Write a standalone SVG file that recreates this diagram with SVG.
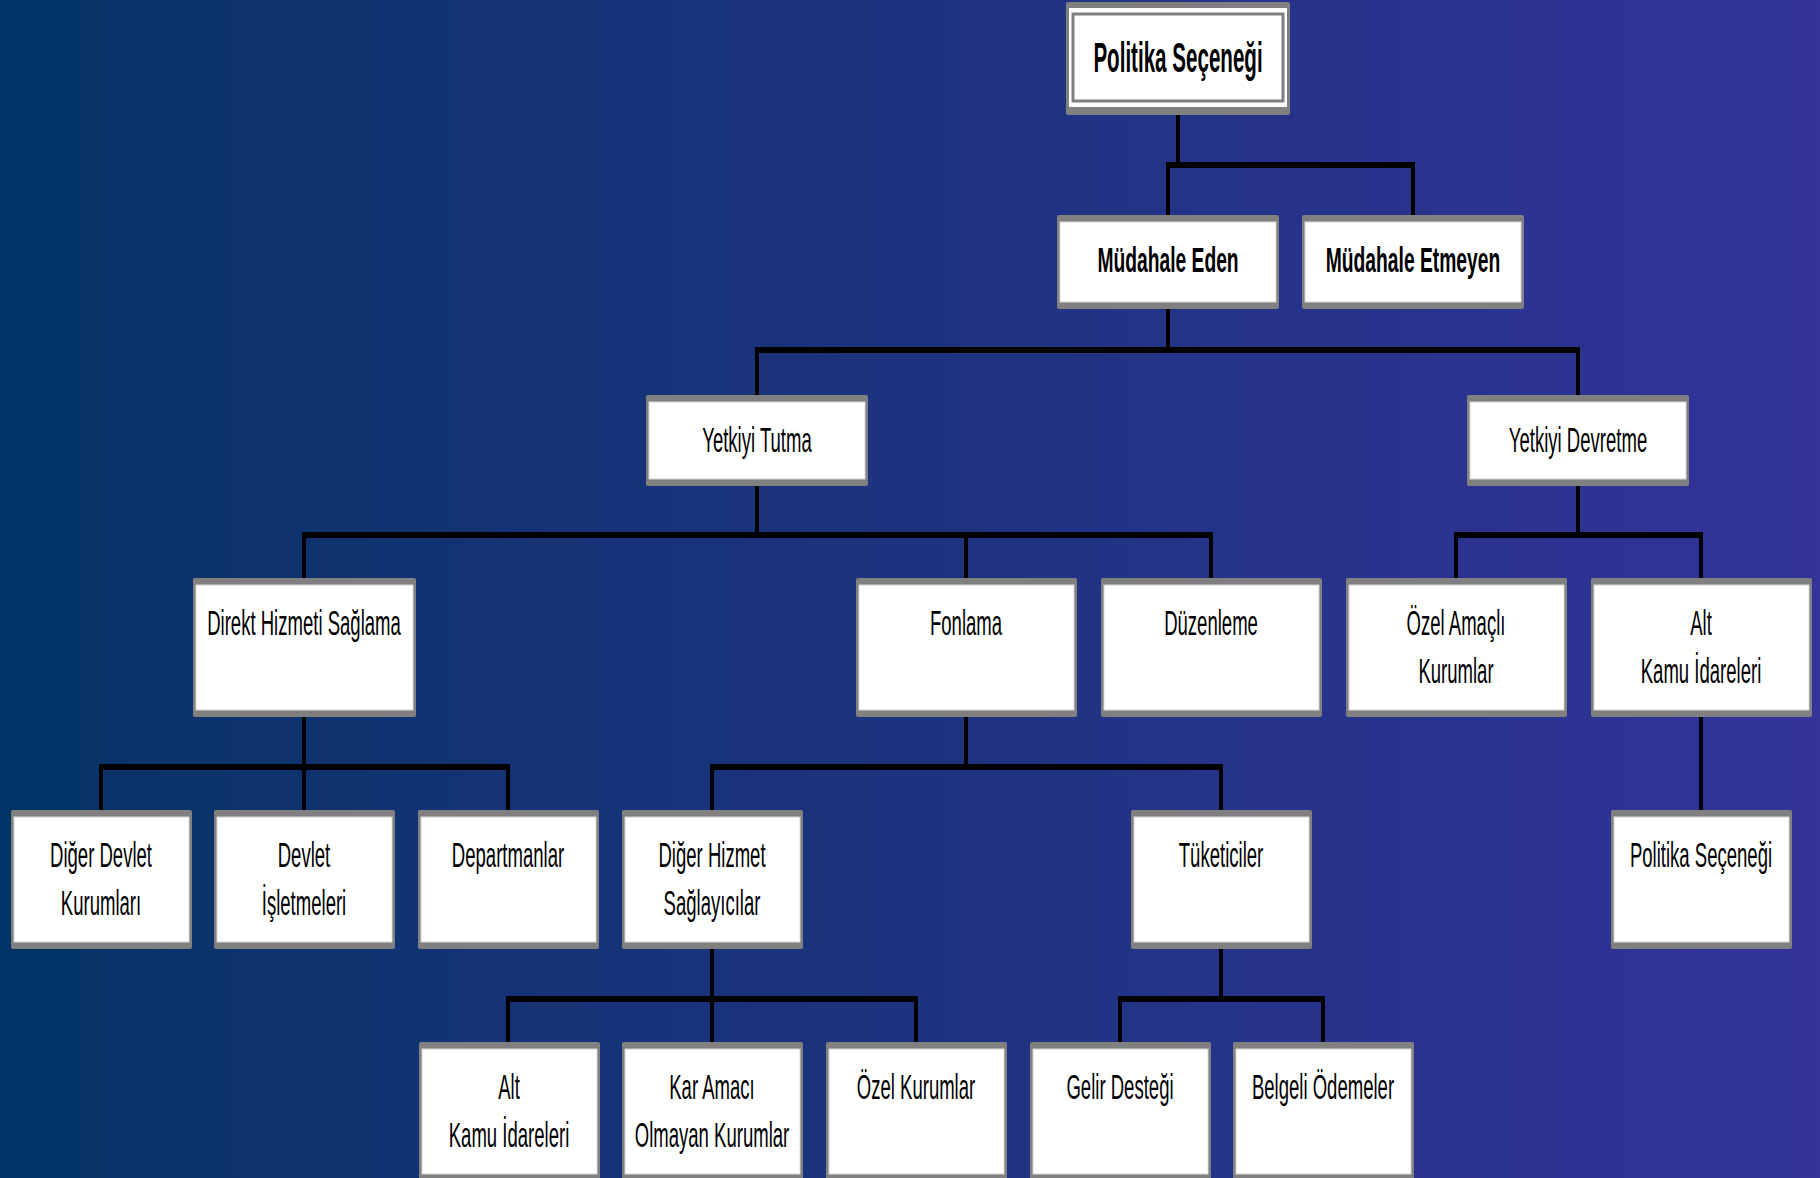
<svg xmlns="http://www.w3.org/2000/svg" width="1820" height="1178" viewBox="0 0 1820 1178">
<defs>
<linearGradient id="bg" x1="0" y1="0" x2="1" y2="0">
<stop offset="0" stop-color="#003366"/>
<stop offset="0.044" stop-color="#003366"/>
<stop offset="0.045" stop-color="#0a3368"/>
<stop offset="1" stop-color="#333399"/>
</linearGradient>
</defs>
<style>
.fr{fill:#808080}
.in{fill:#ffffff;stroke:#d8d8d8;stroke-width:1}
.ln{stroke:#000000;fill:none}
.v{stroke-width:4}
.h{stroke-width:6}
text{font-family:"Liberation Sans",Arial,sans-serif;fill:#000000;text-anchor:middle}
.t{font-size:36px}
.b{font-size:36px;font-weight:bold}
.tb{font-size:42px;font-weight:bold}
</style>
<rect x="0" y="0" width="1820" height="1178" fill="url(#bg)"/>

<g id="connectors">
<line class="ln v" x1="1178" y1="115" x2="1178" y2="165"/>
<line class="ln h" x1="1166" y1="165" x2="1415" y2="165"/>
<line class="ln v" x1="1168" y1="165" x2="1168" y2="215"/>
<line class="ln v" x1="1413" y1="165" x2="1413" y2="215"/>

<line class="ln v" x1="1168" y1="309" x2="1168" y2="350"/>
<line class="ln h" x1="755" y1="350" x2="1580" y2="350"/>
<line class="ln v" x1="757" y1="350" x2="757" y2="395"/>
<line class="ln v" x1="1578" y1="350" x2="1578" y2="395"/>

<line class="ln v" x1="757" y1="486" x2="757" y2="535"/>
<line class="ln h" x1="302" y1="535" x2="1213" y2="535"/>
<line class="ln v" x1="304" y1="535" x2="304" y2="578"/>
<line class="ln v" x1="966" y1="535" x2="966" y2="578"/>
<line class="ln v" x1="1211" y1="535" x2="1211" y2="578"/>

<line class="ln v" x1="1578" y1="486" x2="1578" y2="535"/>
<line class="ln h" x1="1454" y1="535" x2="1703" y2="535"/>
<line class="ln v" x1="1456" y1="535" x2="1456" y2="578"/>
<line class="ln v" x1="1701" y1="535" x2="1701" y2="578"/>

<line class="ln v" x1="304" y1="717" x2="304" y2="767"/>
<line class="ln h" x1="99" y1="767" x2="510" y2="767"/>
<line class="ln v" x1="101" y1="767" x2="101" y2="810"/>
<line class="ln v" x1="304" y1="767" x2="304" y2="810"/>
<line class="ln v" x1="508" y1="767" x2="508" y2="810"/>

<line class="ln v" x1="966" y1="717" x2="966" y2="767"/>
<line class="ln h" x1="710" y1="767" x2="1223" y2="767"/>
<line class="ln v" x1="712" y1="767" x2="712" y2="810"/>
<line class="ln v" x1="1221" y1="767" x2="1221" y2="810"/>

<line class="ln v" x1="1701" y1="717" x2="1701" y2="810"/>

<line class="ln v" x1="712" y1="949" x2="712" y2="999"/>
<line class="ln h" x1="506" y1="999" x2="918" y2="999"/>
<line class="ln v" x1="508" y1="999" x2="508" y2="1042"/>
<line class="ln v" x1="712" y1="999" x2="712" y2="1042"/>
<line class="ln v" x1="916" y1="999" x2="916" y2="1042"/>

<line class="ln v" x1="1221" y1="949" x2="1221" y2="999"/>
<line class="ln h" x1="1118" y1="999" x2="1325" y2="999"/>
<line class="ln v" x1="1120" y1="999" x2="1120" y2="1042"/>
<line class="ln v" x1="1323" y1="999" x2="1323" y2="1042"/>
</g>

<g id="n-politika-top">
<rect class="fr" x="1066" y="2" width="224" height="113" rx="2"/>
<rect x="1069" y="8" width="218" height="99" fill="#ffffff"/>
<rect x="1073" y="14" width="210" height="87" fill="#ffffff" stroke="#808080" stroke-width="3"/>
<text class="tb" transform="translate(1178,72) scale(0.49,1)">Politika Seçeneği</text>
</g>

<g id="n-mudahale-eden">
<rect class="fr" x="1057" y="215" width="222" height="94" rx="2"/>
<rect class="in" x="1060" y="222" width="216" height="80"/>
<text class="b" transform="translate(1168,272) scale(0.535,1)">Müdahale Eden</text>
</g>

<g id="n-mudahale-etmeyen">
<rect class="fr" x="1302" y="215" width="222" height="94" rx="2"/>
<rect class="in" x="1305" y="222" width="216" height="80"/>
<text class="b" transform="translate(1413,272) scale(0.535,1)">Müdahale Etmeyen</text>
</g>

<g id="n-yetkiyi-tutma">
<rect class="fr" x="646" y="395" width="222" height="91" rx="2"/>
<rect class="in" x="649" y="402" width="216" height="77"/>
<text class="t" transform="translate(757,452) scale(0.515,1)">Yetkiyi Tutma</text>
</g>

<g id="n-yetkiyi-devretme">
<rect class="fr" x="1467" y="395" width="222" height="91" rx="2"/>
<rect class="in" x="1470" y="402" width="216" height="77"/>
<text class="t" transform="translate(1578,452) scale(0.515,1)">Yetkiyi Devretme</text>
</g>

<g id="n-direkt">
<rect class="fr" x="193" y="578" width="223" height="139" rx="2"/>
<rect class="in" x="196" y="585" width="217" height="125"/>
<text class="t" transform="translate(304,635) scale(0.515,1)">Direkt Hizmeti Sağlama</text>
</g>

<g id="n-fonlama">
<rect class="fr" x="856" y="578" width="221" height="139" rx="2"/>
<rect class="in" x="859" y="585" width="215" height="125"/>
<text class="t" transform="translate(966,635) scale(0.515,1)">Fonlama</text>
</g>

<g id="n-duzenleme">
<rect class="fr" x="1101" y="578" width="221" height="139" rx="2"/>
<rect class="in" x="1104" y="585" width="215" height="125"/>
<text class="t" transform="translate(1211,635) scale(0.515,1)">Düzenleme</text>
</g>

<g id="n-ozel-amacli">
<rect class="fr" x="1346" y="578" width="221" height="139" rx="2"/>
<rect class="in" x="1349" y="585" width="215" height="125"/>
<text class="t" transform="translate(1456,635) scale(0.515,1)">Özel Amaçlı</text>
<text class="t" transform="translate(1456,683) scale(0.515,1)">Kurumlar</text>
</g>

<g id="n-alt-kamu-1">
<rect class="fr" x="1591" y="578" width="221" height="139" rx="2"/>
<rect class="in" x="1594" y="585" width="215" height="125"/>
<text class="t" transform="translate(1701,635) scale(0.515,1)">Alt</text>
<text class="t" transform="translate(1701,683) scale(0.515,1)">Kamu İdareleri</text>
</g>

<g id="n-diger-devlet">
<rect class="fr" x="11" y="810" width="181" height="139" rx="2"/>
<rect class="in" x="14" y="817" width="175" height="125"/>
<text class="t" transform="translate(101,867) scale(0.515,1)">Diğer Devlet</text>
<text class="t" transform="translate(101,915) scale(0.515,1)">Kurumları</text>
</g>

<g id="n-devlet-isletmeleri">
<rect class="fr" x="214" y="810" width="181" height="139" rx="2"/>
<rect class="in" x="217" y="817" width="175" height="125"/>
<text class="t" transform="translate(304,867) scale(0.515,1)">Devlet</text>
<text class="t" transform="translate(304,915) scale(0.515,1)">İşletmeleri</text>
</g>

<g id="n-departmanlar">
<rect class="fr" x="418" y="810" width="181" height="139" rx="2"/>
<rect class="in" x="421" y="817" width="175" height="125"/>
<text class="t" transform="translate(508,867) scale(0.515,1)">Departmanlar</text>
</g>

<g id="n-diger-hizmet">
<rect class="fr" x="622" y="810" width="181" height="139" rx="2"/>
<rect class="in" x="625" y="817" width="175" height="125"/>
<text class="t" transform="translate(712,867) scale(0.515,1)">Diğer Hizmet</text>
<text class="t" transform="translate(712,915) scale(0.515,1)">Sağlayıcılar</text>
</g>

<g id="n-tuketiciler">
<rect class="fr" x="1131" y="810" width="181" height="139" rx="2"/>
<rect class="in" x="1134" y="817" width="175" height="125"/>
<text class="t" transform="translate(1221,867) scale(0.515,1)">Tüketiciler</text>
</g>

<g id="n-politika-low">
<rect class="fr" x="1611" y="810" width="181" height="139" rx="2"/>
<rect class="in" x="1614" y="817" width="175" height="125"/>
<text class="t" transform="translate(1701,867) scale(0.515,1)">Politika Seçeneği</text>
</g>

<g id="n-alt-kamu-2">
<rect class="fr" x="419" y="1042" width="181" height="139" rx="2"/>
<rect class="in" x="422" y="1049" width="175" height="125"/>
<text class="t" transform="translate(509,1099) scale(0.515,1)">Alt</text>
<text class="t" transform="translate(509,1147) scale(0.515,1)">Kamu İdareleri</text>
</g>

<g id="n-kar-amaci">
<rect class="fr" x="622" y="1042" width="181" height="139" rx="2"/>
<rect class="in" x="625" y="1049" width="175" height="125"/>
<text class="t" transform="translate(712,1099) scale(0.515,1)">Kar Amacı</text>
<text class="t" transform="translate(712,1147) scale(0.515,1)">Olmayan Kurumlar</text>
</g>

<g id="n-ozel-kurumlar">
<rect class="fr" x="826" y="1042" width="181" height="139" rx="2"/>
<rect class="in" x="829" y="1049" width="175" height="125"/>
<text class="t" transform="translate(916,1099) scale(0.515,1)">Özel Kurumlar</text>
</g>

<g id="n-gelir">
<rect class="fr" x="1030" y="1042" width="181" height="139" rx="2"/>
<rect class="in" x="1033" y="1049" width="175" height="125"/>
<text class="t" transform="translate(1120,1099) scale(0.515,1)">Gelir Desteği</text>
</g>

<g id="n-belgeli">
<rect class="fr" x="1233" y="1042" width="181" height="139" rx="2"/>
<rect class="in" x="1236" y="1049" width="175" height="125"/>
<text class="t" transform="translate(1323,1099) scale(0.515,1)">Belgeli Ödemeler</text>
</g>
</svg>
